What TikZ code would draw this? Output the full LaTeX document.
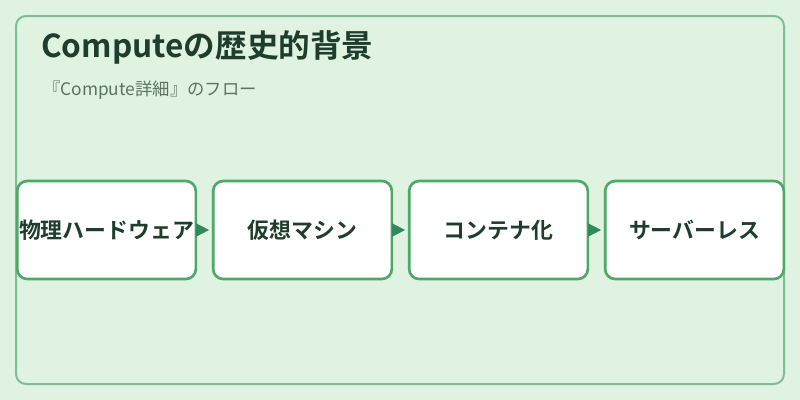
\documentclass[tikz,border=0pt]{standalone}
\usepackage{fontspec}
\setmainfont{Noto Sans CJK JP}
\newfontfamily\jpbold{Noto Sans CJK JP Bold}
\newfontfamily\jpreg{Noto Sans CJK JP}
\usetikzlibrary{arrows.meta}
\definecolor{bgc}{HTML}{E0F2E0}
\definecolor{framec}{HTML}{7DBF95}
\definecolor{boxc}{HTML}{4EA86B}
\definecolor{arrc}{HTML}{2E8B57}
\definecolor{txtc}{HTML}{1F3D2C}
\definecolor{subc}{HTML}{5E7264}
\tikzset{
  stepbox/.style={draw=boxc, line width=2pt, fill=white, rounded corners=7.5pt,
    minimum width=134pt, minimum height=73.5pt, inner sep=0pt,
    font=\jpbold\fontsize{16.4pt}{18pt}\selectfont, text=txtc},
  flow/.style={draw=arrc, line width=1pt, -{Triangle[length=10pt,width=10pt]}, color=arrc, shorten >=2pt},
}
\begin{document}
\begin{tikzpicture}[x=0.75pt,y=-0.75pt]
\useasboundingbox (0,0) rectangle (800,400);
\fill[bgc] (0,0) rectangle (800,400);
\draw[framec, line width=1.5pt, rounded corners=7.5pt, fill=bgc] (16,16) rectangle (784,384);
\node[anchor=base west, inner sep=0pt, text=txtc, font=\jpbold\fontsize{23.7pt}{28pt}\selectfont] (title) at (41,57) {Computeの歴史的背景};
\node[anchor=base west, inner sep=0pt, text=subc, font=\jpreg\fontsize{13pt}{15pt}\selectfont] (sub) at (43,95) {『Compute詳細』のフロー};
\node[stepbox] (a) at (106.5,230) {物理ハードウェア};
\node[stepbox] (b) at (302.5,230) {仮想マシン};
\node[stepbox] (c) at (498.5,230) {コンテナ化};
\node[stepbox] (d) at (694.5,230) {サーバーレス};
\draw[flow] (a) -- (b);
\draw[flow] (b) -- (c);
\draw[flow] (c) -- (d);
\end{tikzpicture}
\end{document}
